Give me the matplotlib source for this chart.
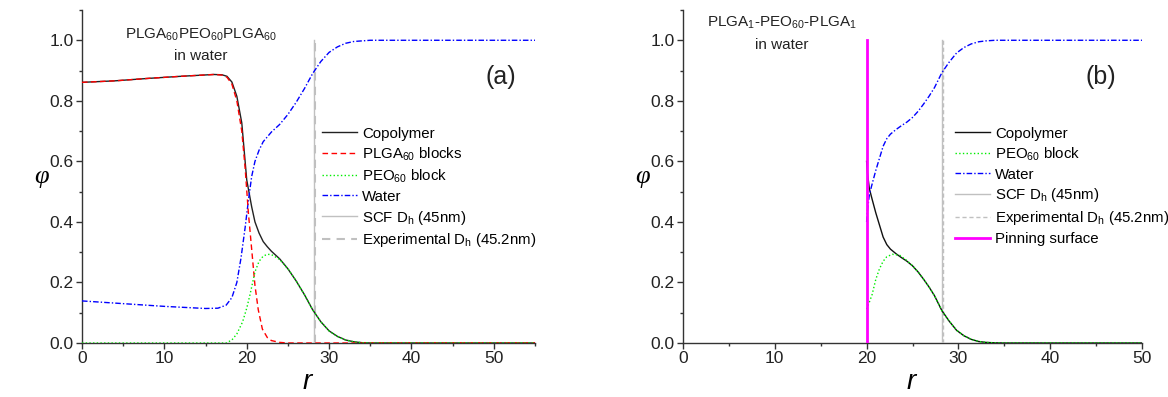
import matplotlib
matplotlib.use("Agg")
import matplotlib.pyplot as plt
from matplotlib.ticker import MultipleLocator, FormatStrFormatter

plt.rcParams["font.family"] = ["Liberation Sans", "DejaVu Sans"]
plt.rcParams["mathtext.fontset"] = "custom"
plt.rcParams["mathtext.rm"] = "Liberation Sans"
plt.rcParams["mathtext.it"] = "Liberation Sans:italic"

# ---- panel (a): PLGA60-PEO60-PLGA60 ----
a_copo_r = [0, 4, 8, 12, 16, 17, 17.6, 18.2, 18.8, 19.4, 20.0, 20.6, 21.0, 21.5, 22.0, 22.5, 23.0,
            24.0, 25.0, 26.0, 27.0, 28.0, 29.0, 30.0, 31.0, 32.0, 33.0, 34.0, 35.0, 55]
a_copo = [0.861, 0.866, 0.874, 0.881, 0.887, 0.886, 0.881, 0.862, 0.815, 0.727, 0.539, 0.45, 0.40,
          0.363, 0.335, 0.318, 0.303, 0.278, 0.245, 0.205, 0.16, 0.11, 0.07, 0.04, 0.022, 0.01,
          0.004, 0.001, 0.0, 0.0]

a_plga_r = [0, 4, 8, 12, 16, 17, 17.6, 18.2, 18.8, 19.4, 19.8, 20.2, 20.6, 21.0, 21.4, 21.9,
            22.5, 23.0, 24.0, 25.0, 55]
a_plga = [0.861, 0.866, 0.874, 0.881, 0.887, 0.885, 0.878, 0.855, 0.80, 0.70, 0.58, 0.43, 0.31,
          0.19, 0.11, 0.046, 0.018, 0.008, 0.002, 0.0, 0.0]

a_peo_r = [0, 17.5, 18.2, 18.8, 19.5, 20.0, 20.4, 21.0, 21.5, 22.0, 22.5, 23.0, 24.0, 25.0, 26.0,
           27.0, 28.0, 29.0, 30.0, 31.0, 32.0, 33.0, 34.0, 35.0, 55]
a_peo = [0.0, 0.0, 0.01, 0.03, 0.07, 0.115, 0.16, 0.235, 0.27, 0.287, 0.293, 0.292, 0.276, 0.245,
         0.205, 0.16, 0.11, 0.07, 0.04, 0.022, 0.01, 0.004, 0.001, 0.0, 0.0]

a_water_r = [0, 5, 10, 15, 16.5, 17.5, 18.2, 18.8, 19.3, 19.8, 20.2, 20.6, 21.0, 21.5, 22.0, 23.0,
             24.0, 25.0, 26.0, 27.0, 28.0, 29.0, 30.0, 31.0, 32.0, 33.0, 35.0, 55]
a_water = [0.139, 0.130, 0.121, 0.114, 0.115, 0.125, 0.15, 0.2, 0.28, 0.38, 0.47, 0.55, 0.60, 0.637,
           0.665, 0.697, 0.722, 0.755, 0.795, 0.84, 0.89, 0.93, 0.96, 0.978, 0.99, 0.996, 1.0, 1.0]

# ---- panel (b): PLGA1-PEO60-PLGA1 ----
b_copo_r = [20.0, 20.1, 20.3, 20.6, 21.0, 21.4, 21.8, 22.2, 22.6, 23.2, 23.8, 24.4, 25.0, 25.6,
            26.2, 26.8, 27.4, 28.2, 29.0, 29.8, 30.6, 31.4, 32.2, 33.0, 34.0, 35, 50]
b_copo = [0.60, 0.56, 0.51, 0.475, 0.43, 0.39, 0.35, 0.325, 0.31, 0.295, 0.282, 0.27, 0.255, 0.235,
          0.211, 0.185, 0.156, 0.107, 0.072, 0.042, 0.024, 0.012, 0.005, 0.002, 0.0005, 0.0, 0.0]

b_peo_r = [20.0, 20.3, 20.6, 21.0, 21.4, 21.8, 22.2, 22.8, 23.6, 24.4, 25.0, 25.6, 26.2, 26.8, 27.4,
           28.2, 29.0, 29.8, 30.6, 31.4, 32.2, 33.0, 34.0, 35, 50]
b_peo = [0.112, 0.135, 0.16, 0.21, 0.245, 0.27, 0.285, 0.293, 0.29, 0.272, 0.255, 0.235, 0.211,
         0.185, 0.156, 0.107, 0.072, 0.042, 0.024, 0.012, 0.005, 0.002, 0.0005, 0.0, 0.0]

b_water_r = [20.0, 20.1, 20.3, 20.6, 21.0, 21.4, 21.8, 22.2, 22.6, 23.2, 23.8, 24.4, 25.0, 25.6,
             26.2, 26.8, 27.4, 28.2, 29.0, 29.8, 30.6, 31.4, 32.2, 33.0, 34.0, 35, 50]
b_water = [0.40, 0.44, 0.49, 0.525, 0.57, 0.61, 0.65, 0.675, 0.69, 0.705, 0.718, 0.73, 0.745, 0.765,
           0.789, 0.815, 0.844, 0.893, 0.928, 0.958, 0.976, 0.988, 0.995, 0.998, 1.0, 1.0, 1.0]

scf_dh = 28.2
exp_dh = 28.3
pin_r = 20.0

GRAY = "#c0c0c0"
DASHDOT = (0, (4, 1.5, 1, 1.5))


def style_axes(ax, xmax):
    ax.set_xlim(0, xmax)
    ax.set_ylim(0, 1.1)
    ax.xaxis.set_major_locator(MultipleLocator(10))
    ax.xaxis.set_minor_locator(MultipleLocator(5))
    ax.yaxis.set_major_locator(MultipleLocator(0.2))
    ax.yaxis.set_minor_locator(MultipleLocator(0.1))
    ax.yaxis.set_major_formatter(FormatStrFormatter("%.1f"))
    for s in ["top", "right"]:
        ax.spines[s].set_visible(False)
    for s in ["left", "bottom"]:
        ax.spines[s].set_color("#333333")
        ax.spines[s].set_linewidth(1.0)
    ax.tick_params(which="major", direction="out", length=4, width=1, labelsize=12.5,
                   colors="#333333", labelcolor="#222222", pad=2)
    ax.tick_params(which="minor", direction="out", length=2.5, width=1, colors="#333333")
    ax.set_xlabel("$r$", fontsize=20, labelpad=2)
    ax.set_ylabel("φ", fontsize=19, family="Liberation Serif", style="italic",
                  rotation=0, labelpad=6, va="center")


fig = plt.figure(figsize=(11.68, 3.97), dpi=100)
ax1 = fig.add_axes([82 / 1168, 54 / 397, 453 / 1168, 333 / 397])
ax2 = fig.add_axes([683 / 1168, 54 / 397, 459 / 1168, 333 / 397])

# panel (a)
ax1.plot(a_copo_r, a_copo, color="#222222", lw=1.0, label="Copolymer", zorder=4)
ax1.plot(a_plga_r, a_plga, color="#ff0000", lw=1.0, ls="--", dashes=(4, 2.5),
         label="PLGA$_{60}$ blocks", zorder=5)
ax1.plot(a_peo_r, a_peo, color="#00ee00", lw=1.0, ls=":", label="PEO$_{60}$ block", zorder=5)
ax1.plot(a_water_r, a_water, color="#0000ff", lw=1.0, ls=DASHDOT, label="Water", zorder=4)
ax1.plot([scf_dh, scf_dh], [0, 1.0], color=GRAY, lw=1.0, label="SCF D$_\\mathrm{h}$ (45nm)", zorder=3)
ax1.plot([exp_dh, exp_dh], [0, 1.0], color=GRAY, lw=1.5, ls="--", dashes=(4, 3),
         label="Experimental D$_\\mathrm{h}$ (45.2nm)", zorder=3)
style_axes(ax1, 55)
ax1.text(0.262, 0.895, "PLGA$_{60}$PEO$_{60}$PLGA$_{60}$\nin water", transform=ax1.transAxes,
         ha="center", va="center", fontsize=11, linespacing=1.6, color="#222222")
ax1.text(0.925, 0.80, "(a)", transform=ax1.transAxes, ha="center", va="center", fontsize=18,
         color="#222222")
ax1.legend(loc="upper left", bbox_to_anchor=(0.530, 0.65), frameon=False, fontsize=10.8,
           handlelength=2.3, handletextpad=0.35, labelspacing=0.32, borderpad=0, borderaxespad=0)

# panel (b)
ax2.plot(b_copo_r, b_copo, color="#111111", lw=1.0, label="Copolymer", zorder=4)
ax2.plot(b_peo_r, b_peo, color="#00ee00", lw=1.0, ls=":", label="PEO$_{60}$ block", zorder=5)
ax2.plot(b_water_r, b_water, color="#0000ff", lw=1.0, ls=DASHDOT, label="Water", zorder=4)
ax2.plot([scf_dh, scf_dh], [0, 1.0], color=GRAY, lw=1.0, label="SCF D$_\\mathrm{h}$ (45nm)", zorder=3)
ax2.plot([exp_dh, exp_dh], [0, 1.0], color=GRAY, lw=1.0, ls="--", dashes=(3, 2),
         label="Experimental D$_\\mathrm{h}$ (45.2nm)", zorder=3)
ax2.plot([pin_r, pin_r], [0, 1.0], color="#ff00ff", lw=2.0, label="Pinning surface", zorder=6)
style_axes(ax2, 50)
ax2.text(0.215, 0.93, "PLGA$_{1}$-PEO$_{60}$-PLGA$_{1}$\nin water", transform=ax2.transAxes,
         ha="center", va="center", fontsize=11, linespacing=1.6, color="#222222")
ax2.text(0.91, 0.80, "(b)", transform=ax2.transAxes, ha="center", va="center", fontsize=18,
         color="#222222")
ax2.legend(loc="upper left", bbox_to_anchor=(0.593, 0.65), frameon=False, fontsize=10.8,
           handlelength=2.3, handletextpad=0.35, labelspacing=0.32, borderpad=0, borderaxespad=0)

fig.savefig("out.png", dpi=100)
